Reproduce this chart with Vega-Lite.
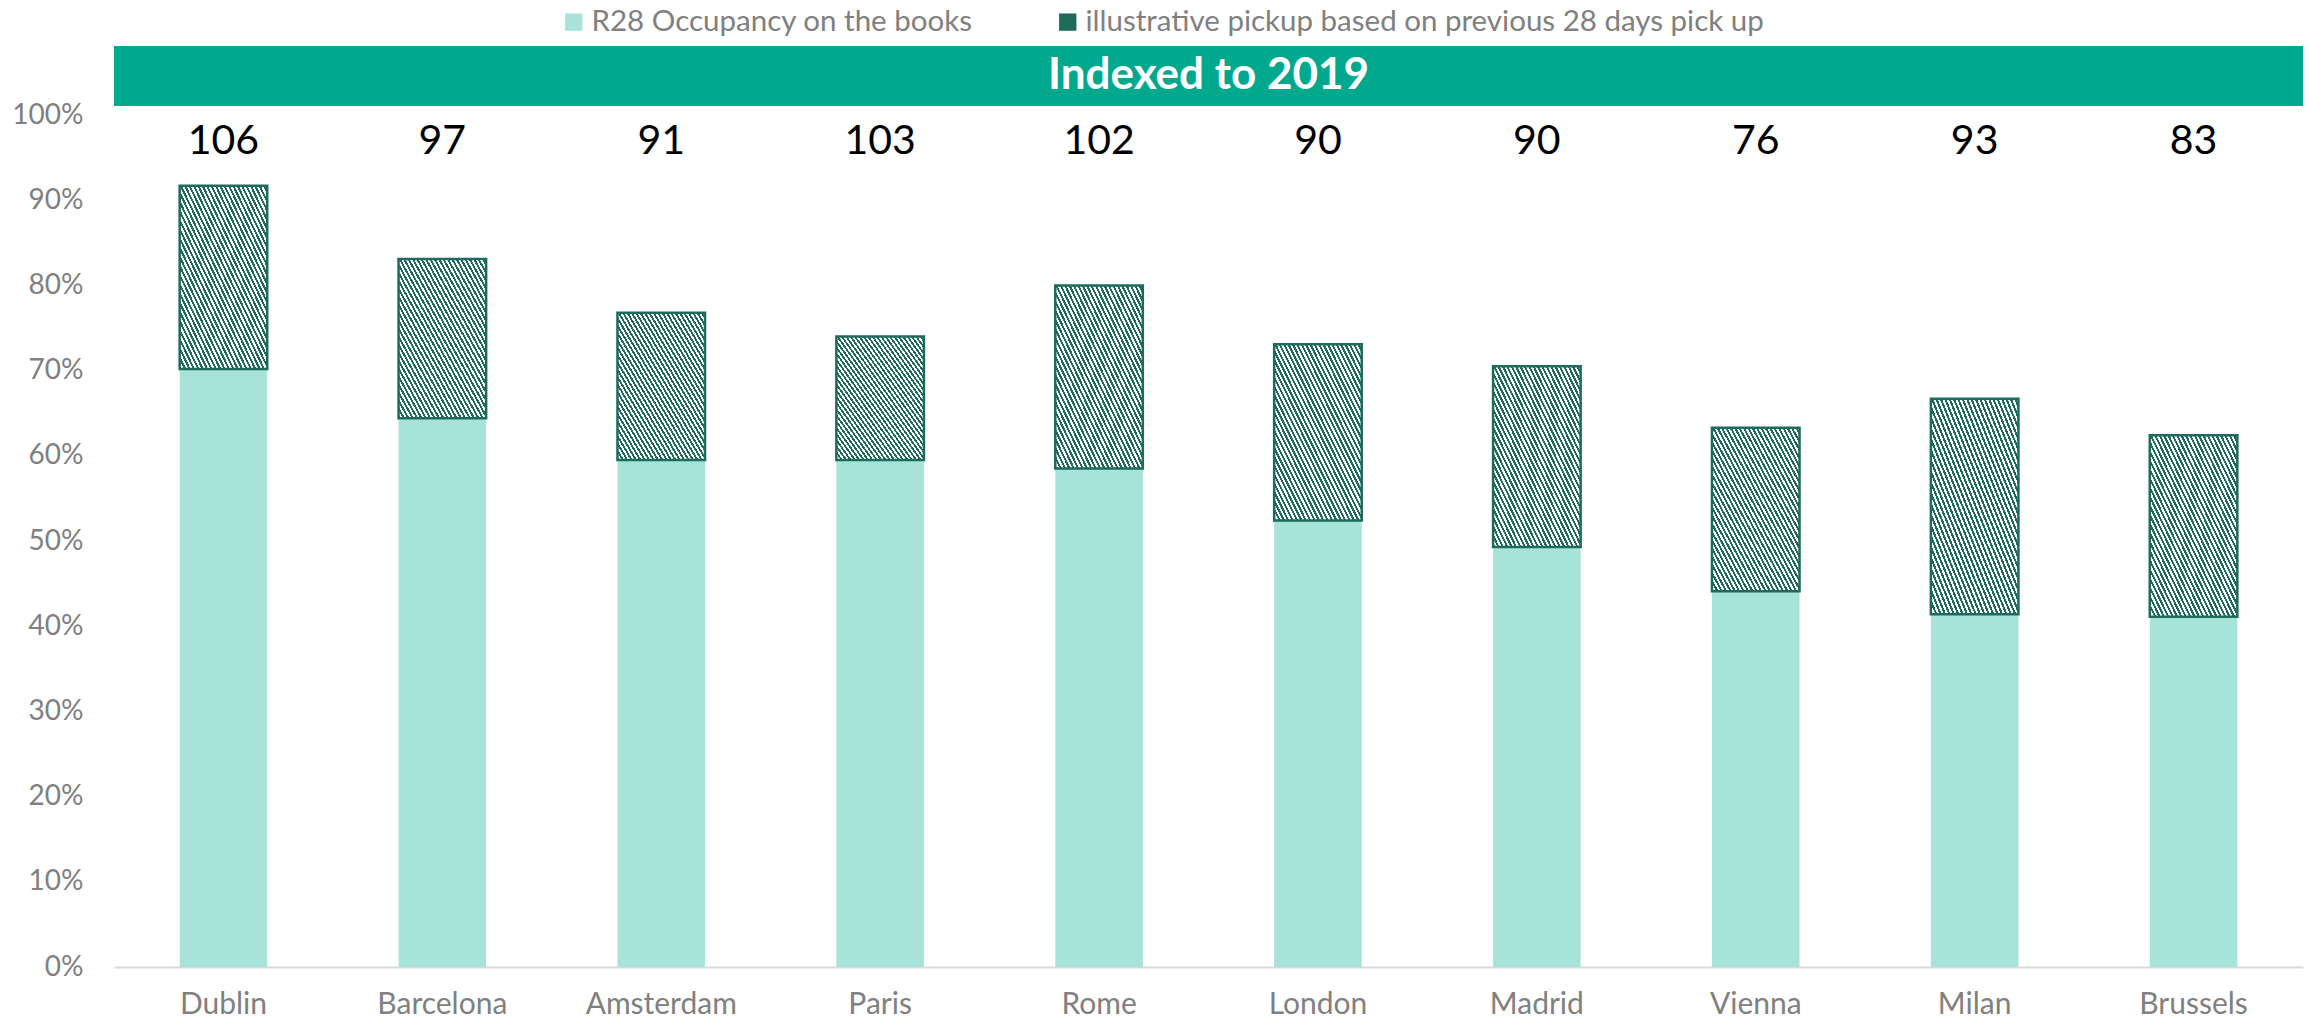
{
  "$schema": "https://vega.github.io/schema/vega-lite/v6.json",
  "width": 2189,
  "height": 852,
  "autosize": {"type": "none"},
  "padding": {"left": 114, "top": 115, "right": 7, "bottom": 56},
  "background": "white",
  "config": {
    "view": {"stroke": null},
    "font": "Lato",
    "axisX": {"labelFont": "Lato", "labelFontSize": 30, "labelColor": "#808080", "labelPadding": 22, "labelAngle": 0, "domainColor": "#d9d9d9", "domainWidth": 2, "ticks": false, "grid": false, "title": null},
    "axisY": {"labelFont": "Lato", "labelFontSize": 28, "labelColor": "#808080", "labelPadding": 31, "domain": false, "ticks": false, "grid": false, "title": null}
  },
  "data": {
    "values": [
      {"city": "Dublin", "occ": 0.702, "total": 0.917, "idx": 106},
      {"city": "Barcelona", "occ": 0.644, "total": 0.831, "idx": 97},
      {"city": "Amsterdam", "occ": 0.595, "total": 0.768, "idx": 91},
      {"city": "Paris", "occ": 0.595, "total": 0.740, "idx": 103},
      {"city": "Rome", "occ": 0.585, "total": 0.800, "idx": 102},
      {"city": "London", "occ": 0.524, "total": 0.731, "idx": 90},
      {"city": "Madrid", "occ": 0.493, "total": 0.705, "idx": 90},
      {"city": "Vienna", "occ": 0.441, "total": 0.633, "idx": 76},
      {"city": "Milan", "occ": 0.414, "total": 0.667, "idx": 93},
      {"city": "Brussels", "occ": 0.411, "total": 0.624, "idx": 83}
    ]
  },
  "encoding": {
    "x": {"field": "city", "type": "nominal", "sort": null, "scale": {"paddingInner": 0.6, "paddingOuter": 0.3}, "axis": {"title": null}}
  },
  "layer": [
    {
      "mark": {"type": "bar"},
      "encoding": {
        "y": {"field": "occ", "type": "quantitative", "scale": {"domain": [0, 1], "nice": false}, "axis": {"values": [0, 0.1, 0.2, 0.3, 0.4, 0.5, 0.6, 0.7, 0.8, 0.9, 1], "format": ".0%", "title": null}},
        "color": {
          "datum": "R28 Occupancy on the books",
          "type": "nominal",
          "scale": {"domain": ["R28 Occupancy on the books", "illustrative pickup based on previous 28 days pick up"], "range": ["#a8e3da", "#1e6b5c"]},
          "legend": {"orient": "none", "legendX": 445, "legendY": -108, "direction": "horizontal", "title": null, "symbolType": "square", "symbolSize": 300, "symbolStrokeWidth": 0, "labelFont": "Lato", "labelFontSize": 29.5, "labelColor": "#808080", "labelOffset": 3, "labelLimit": 0, "columnPadding": 80}
        }
      }
    },
    {
      "mark": {"type": "bar"},
      "encoding": {
        "y": {"field": "occ", "type": "quantitative", "scale": {"domain": [0, 1], "nice": false}},
        "y2": {"field": "total"},
        "color": {"datum": "illustrative pickup based on previous 28 days pick up", "type": "nominal"}
      }
    },
    {
      "mark": {
        "type": "bar",
        "stroke": "#1e6b5c",
        "strokeWidth": 2.5,
        "fill": {
          "gradient": "linear", "x1": 0, "y1": 1, "x2": 1, "y2": 0,
          "stops": [
            {"offset": 0, "color": "#1e6b5c"},
            {"offset": 0.0125, "color": "#1e6b5c"}, {"offset": 0.0125, "color": "#ffffff"},
            {"offset": 0.025, "color": "#ffffff"}, {"offset": 0.025, "color": "#1e6b5c"},
            {"offset": 0.0375, "color": "#1e6b5c"}, {"offset": 0.0375, "color": "#ffffff"},
            {"offset": 0.05, "color": "#ffffff"}, {"offset": 0.05, "color": "#1e6b5c"},
            {"offset": 0.0625, "color": "#1e6b5c"}, {"offset": 0.0625, "color": "#ffffff"},
            {"offset": 0.075, "color": "#ffffff"}, {"offset": 0.075, "color": "#1e6b5c"},
            {"offset": 0.0875, "color": "#1e6b5c"}, {"offset": 0.0875, "color": "#ffffff"},
            {"offset": 0.1, "color": "#ffffff"}, {"offset": 0.1, "color": "#1e6b5c"},
            {"offset": 0.1125, "color": "#1e6b5c"}, {"offset": 0.1125, "color": "#ffffff"},
            {"offset": 0.125, "color": "#ffffff"}, {"offset": 0.125, "color": "#1e6b5c"},
            {"offset": 0.1375, "color": "#1e6b5c"}, {"offset": 0.1375, "color": "#ffffff"},
            {"offset": 0.15, "color": "#ffffff"}, {"offset": 0.15, "color": "#1e6b5c"},
            {"offset": 0.1625, "color": "#1e6b5c"}, {"offset": 0.1625, "color": "#ffffff"},
            {"offset": 0.175, "color": "#ffffff"}, {"offset": 0.175, "color": "#1e6b5c"},
            {"offset": 0.1875, "color": "#1e6b5c"}, {"offset": 0.1875, "color": "#ffffff"},
            {"offset": 0.2, "color": "#ffffff"}, {"offset": 0.2, "color": "#1e6b5c"},
            {"offset": 0.2125, "color": "#1e6b5c"}, {"offset": 0.2125, "color": "#ffffff"},
            {"offset": 0.225, "color": "#ffffff"}, {"offset": 0.225, "color": "#1e6b5c"},
            {"offset": 0.2375, "color": "#1e6b5c"}, {"offset": 0.2375, "color": "#ffffff"},
            {"offset": 0.25, "color": "#ffffff"}, {"offset": 0.25, "color": "#1e6b5c"},
            {"offset": 0.2625, "color": "#1e6b5c"}, {"offset": 0.2625, "color": "#ffffff"},
            {"offset": 0.275, "color": "#ffffff"}, {"offset": 0.275, "color": "#1e6b5c"},
            {"offset": 0.2875, "color": "#1e6b5c"}, {"offset": 0.2875, "color": "#ffffff"},
            {"offset": 0.3, "color": "#ffffff"}, {"offset": 0.3, "color": "#1e6b5c"},
            {"offset": 0.3125, "color": "#1e6b5c"}, {"offset": 0.3125, "color": "#ffffff"},
            {"offset": 0.325, "color": "#ffffff"}, {"offset": 0.325, "color": "#1e6b5c"},
            {"offset": 0.3375, "color": "#1e6b5c"}, {"offset": 0.3375, "color": "#ffffff"},
            {"offset": 0.35, "color": "#ffffff"}, {"offset": 0.35, "color": "#1e6b5c"},
            {"offset": 0.3625, "color": "#1e6b5c"}, {"offset": 0.3625, "color": "#ffffff"},
            {"offset": 0.375, "color": "#ffffff"}, {"offset": 0.375, "color": "#1e6b5c"},
            {"offset": 0.3875, "color": "#1e6b5c"}, {"offset": 0.3875, "color": "#ffffff"},
            {"offset": 0.4, "color": "#ffffff"}, {"offset": 0.4, "color": "#1e6b5c"},
            {"offset": 0.4125, "color": "#1e6b5c"}, {"offset": 0.4125, "color": "#ffffff"},
            {"offset": 0.425, "color": "#ffffff"}, {"offset": 0.425, "color": "#1e6b5c"},
            {"offset": 0.4375, "color": "#1e6b5c"}, {"offset": 0.4375, "color": "#ffffff"},
            {"offset": 0.45, "color": "#ffffff"}, {"offset": 0.45, "color": "#1e6b5c"},
            {"offset": 0.4625, "color": "#1e6b5c"}, {"offset": 0.4625, "color": "#ffffff"},
            {"offset": 0.475, "color": "#ffffff"}, {"offset": 0.475, "color": "#1e6b5c"},
            {"offset": 0.4875, "color": "#1e6b5c"}, {"offset": 0.4875, "color": "#ffffff"},
            {"offset": 0.5, "color": "#ffffff"}, {"offset": 0.5, "color": "#1e6b5c"},
            {"offset": 0.5125, "color": "#1e6b5c"}, {"offset": 0.5125, "color": "#ffffff"},
            {"offset": 0.525, "color": "#ffffff"}, {"offset": 0.525, "color": "#1e6b5c"},
            {"offset": 0.5375, "color": "#1e6b5c"}, {"offset": 0.5375, "color": "#ffffff"},
            {"offset": 0.55, "color": "#ffffff"}, {"offset": 0.55, "color": "#1e6b5c"},
            {"offset": 0.5625, "color": "#1e6b5c"}, {"offset": 0.5625, "color": "#ffffff"},
            {"offset": 0.575, "color": "#ffffff"}, {"offset": 0.575, "color": "#1e6b5c"},
            {"offset": 0.5875, "color": "#1e6b5c"}, {"offset": 0.5875, "color": "#ffffff"},
            {"offset": 0.6, "color": "#ffffff"}, {"offset": 0.6, "color": "#1e6b5c"},
            {"offset": 0.6125, "color": "#1e6b5c"}, {"offset": 0.6125, "color": "#ffffff"},
            {"offset": 0.625, "color": "#ffffff"}, {"offset": 0.625, "color": "#1e6b5c"},
            {"offset": 0.6375, "color": "#1e6b5c"}, {"offset": 0.6375, "color": "#ffffff"},
            {"offset": 0.65, "color": "#ffffff"}, {"offset": 0.65, "color": "#1e6b5c"},
            {"offset": 0.6625, "color": "#1e6b5c"}, {"offset": 0.6625, "color": "#ffffff"},
            {"offset": 0.675, "color": "#ffffff"}, {"offset": 0.675, "color": "#1e6b5c"},
            {"offset": 0.6875, "color": "#1e6b5c"}, {"offset": 0.6875, "color": "#ffffff"},
            {"offset": 0.7, "color": "#ffffff"}, {"offset": 0.7, "color": "#1e6b5c"},
            {"offset": 0.7125, "color": "#1e6b5c"}, {"offset": 0.7125, "color": "#ffffff"},
            {"offset": 0.725, "color": "#ffffff"}, {"offset": 0.725, "color": "#1e6b5c"},
            {"offset": 0.7375, "color": "#1e6b5c"}, {"offset": 0.7375, "color": "#ffffff"},
            {"offset": 0.75, "color": "#ffffff"}, {"offset": 0.75, "color": "#1e6b5c"},
            {"offset": 0.7625, "color": "#1e6b5c"}, {"offset": 0.7625, "color": "#ffffff"},
            {"offset": 0.775, "color": "#ffffff"}, {"offset": 0.775, "color": "#1e6b5c"},
            {"offset": 0.7875, "color": "#1e6b5c"}, {"offset": 0.7875, "color": "#ffffff"},
            {"offset": 0.8, "color": "#ffffff"}, {"offset": 0.8, "color": "#1e6b5c"},
            {"offset": 0.8125, "color": "#1e6b5c"}, {"offset": 0.8125, "color": "#ffffff"},
            {"offset": 0.825, "color": "#ffffff"}, {"offset": 0.825, "color": "#1e6b5c"},
            {"offset": 0.8375, "color": "#1e6b5c"}, {"offset": 0.8375, "color": "#ffffff"},
            {"offset": 0.85, "color": "#ffffff"}, {"offset": 0.85, "color": "#1e6b5c"},
            {"offset": 0.8625, "color": "#1e6b5c"}, {"offset": 0.8625, "color": "#ffffff"},
            {"offset": 0.875, "color": "#ffffff"}, {"offset": 0.875, "color": "#1e6b5c"},
            {"offset": 0.8875, "color": "#1e6b5c"}, {"offset": 0.8875, "color": "#ffffff"},
            {"offset": 0.9, "color": "#ffffff"}, {"offset": 0.9, "color": "#1e6b5c"},
            {"offset": 0.9125, "color": "#1e6b5c"}, {"offset": 0.9125, "color": "#ffffff"},
            {"offset": 0.925, "color": "#ffffff"}, {"offset": 0.925, "color": "#1e6b5c"},
            {"offset": 0.9375, "color": "#1e6b5c"}, {"offset": 0.9375, "color": "#ffffff"},
            {"offset": 0.95, "color": "#ffffff"}, {"offset": 0.95, "color": "#1e6b5c"},
            {"offset": 0.9625, "color": "#1e6b5c"}, {"offset": 0.9625, "color": "#ffffff"},
            {"offset": 0.975, "color": "#ffffff"}, {"offset": 0.975, "color": "#1e6b5c"},
            {"offset": 0.9875, "color": "#1e6b5c"}, {"offset": 0.9875, "color": "#ffffff"},
            {"offset": 1, "color": "#ffffff"}
          ]
        }
      },
      "encoding": {
        "y": {"field": "occ", "type": "quantitative", "scale": {"domain": [0, 1], "nice": false}},
        "y2": {"field": "total"}
      }
    },
    {
      "mark": {"type": "text", "font": "Lato", "fontSize": 41, "color": "#000000", "baseline": "middle", "align": "center"},
      "encoding": {
        "y": {"datum": 0.968, "type": "quantitative", "scale": {"domain": [0, 1], "nice": false}},
        "text": {"field": "idx", "type": "quantitative"}
      }
    },
    {
      "data": {"values": [{"label": "Indexed to 2019"}]},
      "layer": [
        {
          "mark": {"type": "rect", "color": "#00a98e"},
          "encoding": {
            "x": null,
            "y": {"datum": 1.0106, "type": "quantitative", "scale": {"domain": [0, 1], "nice": false}},
            "y2": {"datum": 1.081}
          }
        },
        {
          "mark": {"type": "text", "font": "Lato", "fontWeight": "bold", "fontSize": 44, "color": "#ffffff", "baseline": "middle", "align": "center"},
          "encoding": {
            "x": null,
            "y": {"datum": 1.0458, "type": "quantitative", "scale": {"domain": [0, 1], "nice": false}},
            "text": {"field": "label", "type": "nominal"}
          }
        }
      ]
    }
  ]
}
